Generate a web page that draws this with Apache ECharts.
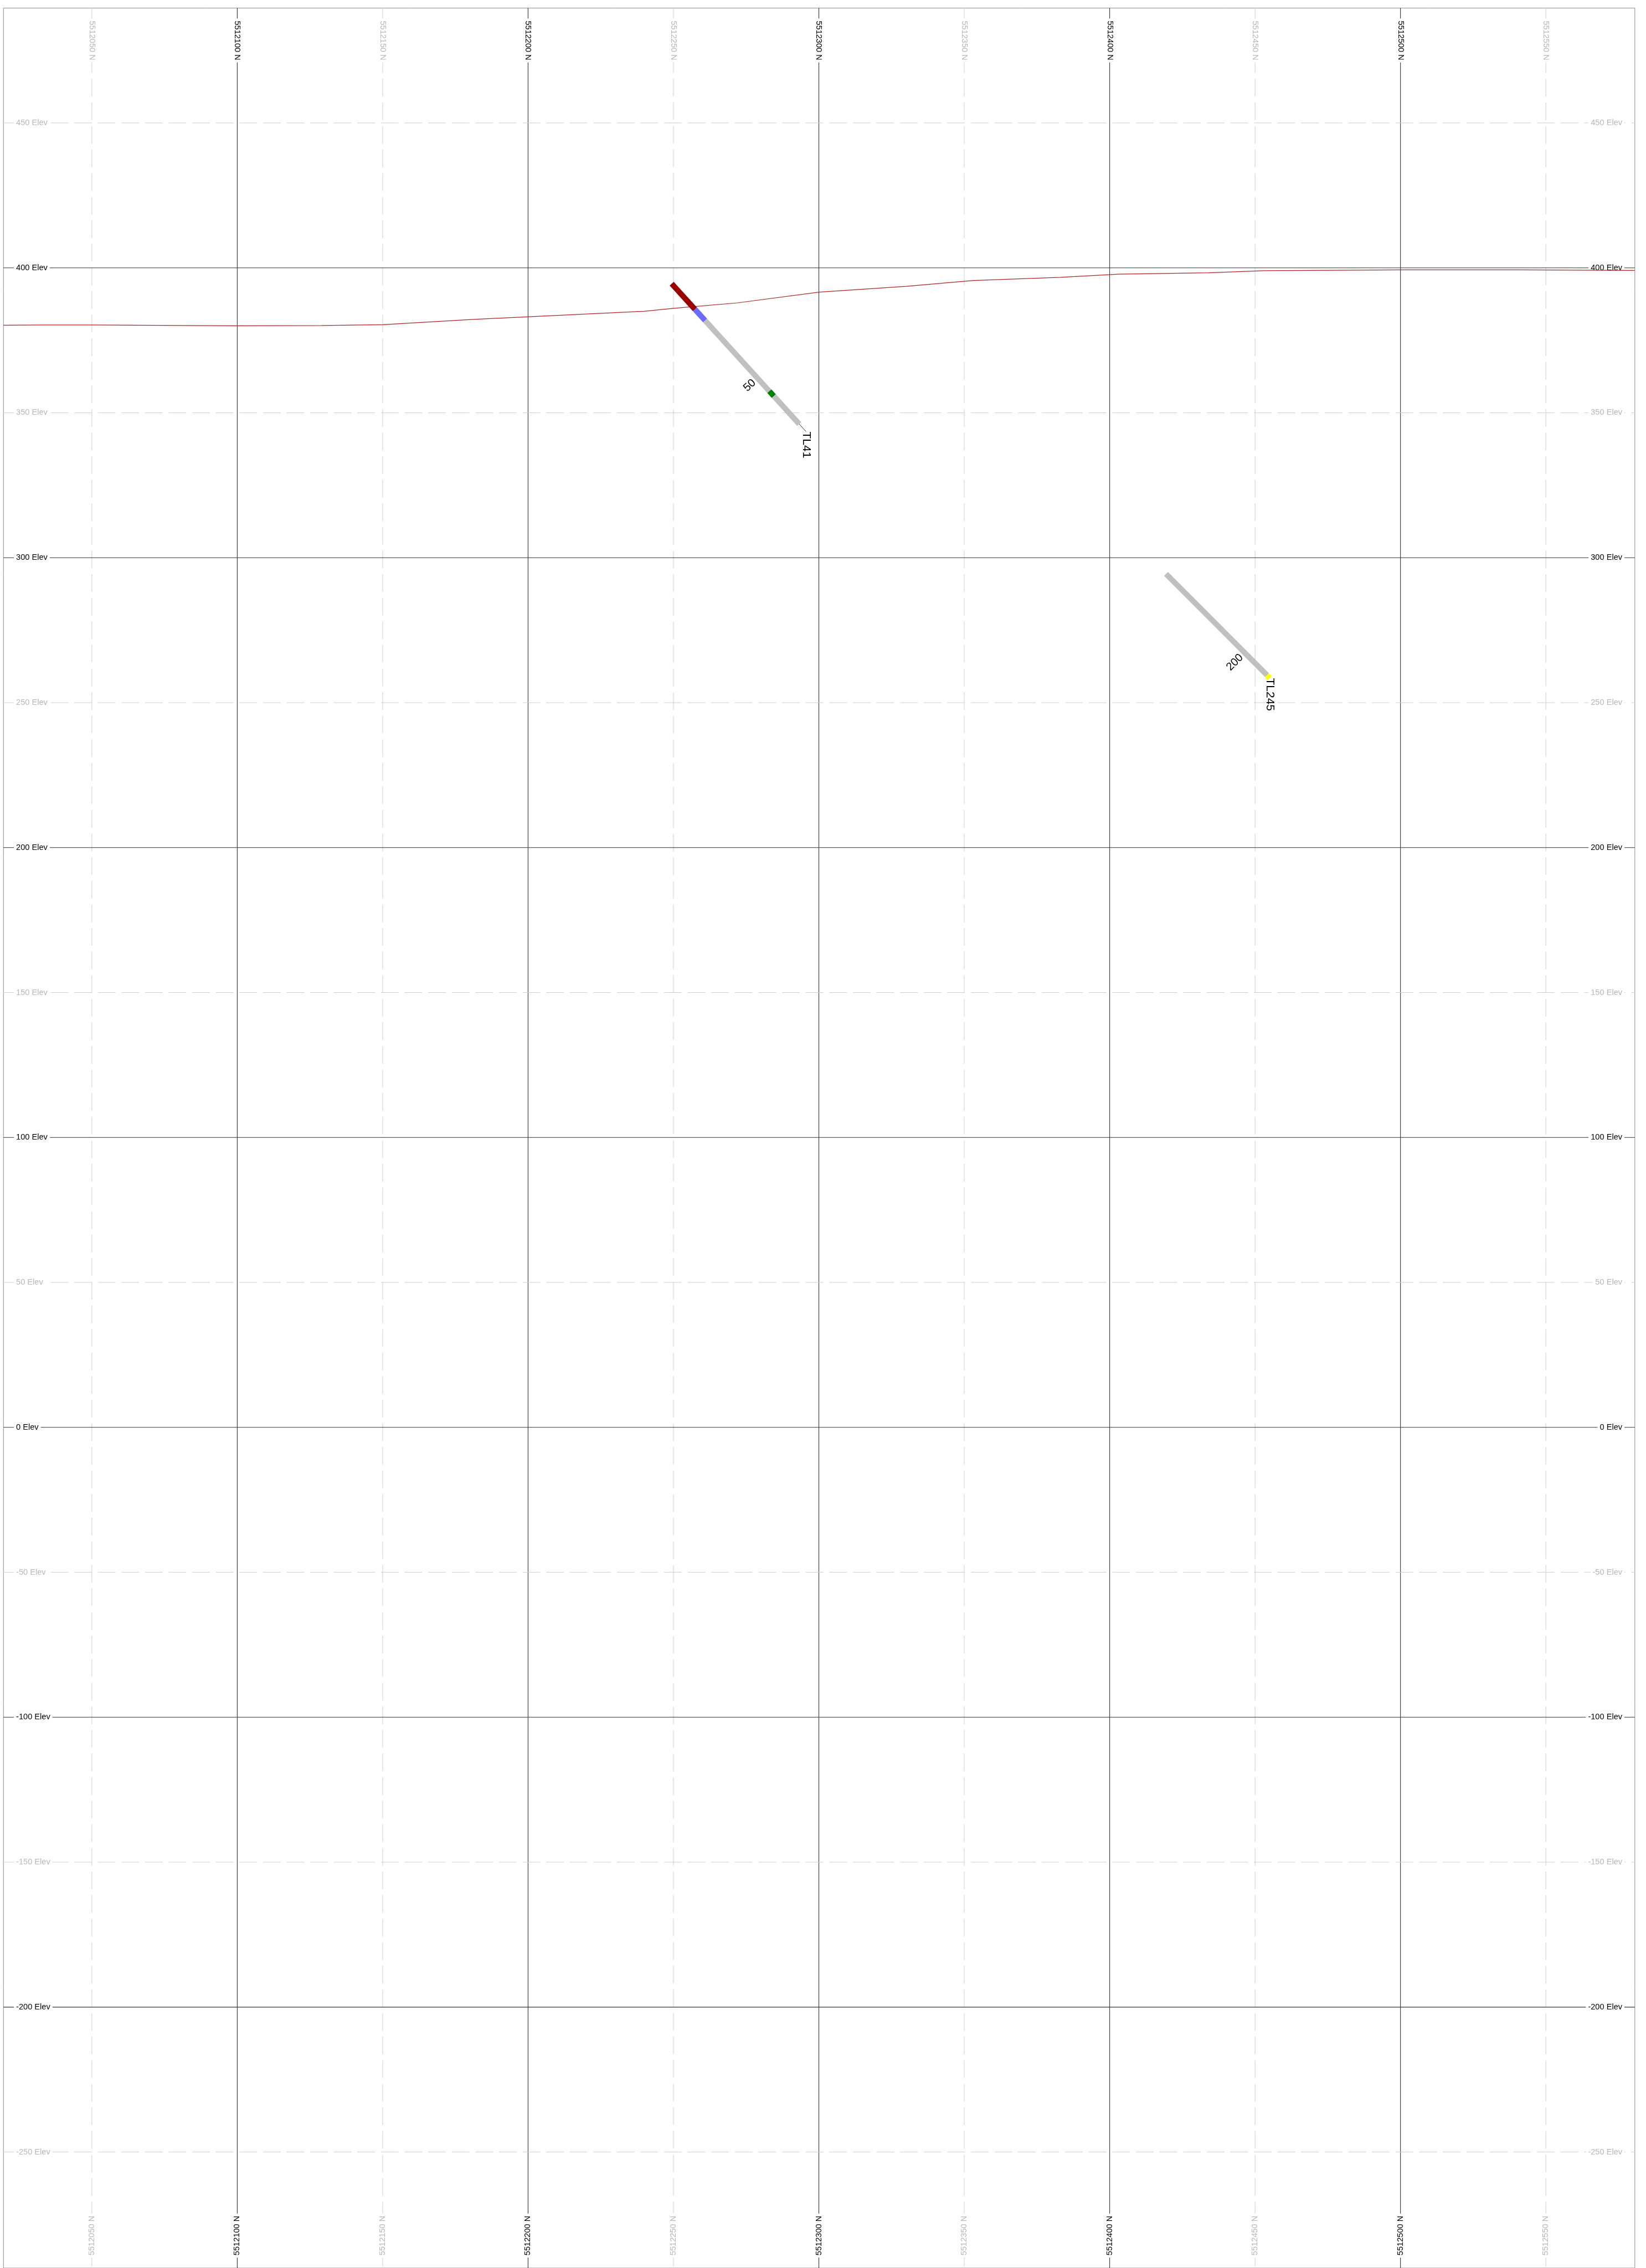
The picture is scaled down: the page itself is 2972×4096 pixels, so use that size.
<!DOCTYPE html>
<html>
<head>
<meta charset="utf-8">
<script src="https://cdn.jsdelivr.net/npm/echarts@6/dist/echarts.min.js"></script>
<style>
html, body { margin: 0; padding: 0; background: #ffffff; }
#chart { width: 2972px; height: 4096px; }
</style>
</head>
<body>
<div id="chart"></div>
<script>
// Section window (northing and elevation, metres)
const northRange = [5512019.6, 5512580.6];
const elevRange = [-290, 489.6];

// Grid ticks along the section
const northTicks = [5512050, 5512100, 5512150, 5512200, 5512250, 5512300,
                    5512350, 5512400, 5512450, 5512500, 5512550];
const elevTicks = [450, 400, 350, 300, 250, 200, 150, 100, 50, 0,
                   -50, -100, -150, -200, -250];

// Topographic surface profile
const topoNorth = [5512019.6, 5512033, 5512050, 5512082, 5512100, 5512129, 5512150,
                   5512181, 5512200, 5512240, 5512250, 5512272, 5512300, 5512330,
                   5512353, 5512383, 5512403, 5512434, 5512453, 5512500, 5512541, 5512580.6];
const topoElev = [380.2, 380.3, 380.3, 380.1, 380.0, 380.1, 380.4,
                  382.2, 383.1, 385.0, 386.0, 387.9, 391.6, 393.6,
                  395.6, 396.7, 397.8, 398.3, 399.0, 399.3, 399.3, 399.1];

// Drill hole traces projected on the section
const holeNames = ['TL41', 'TL245'];
const holeFromDepth = [0, 155.6];
const holeToDepth = [68.8, 206.3];
const holeStart = [[5512249.4, 394.5], [5512419.4, 294.4]];
const holeEnd = [[5512295.6, 343.5], [5512455.1, 258.5]];

// Logged intervals: [from, to, code]
const tl41Intervals = [[0, 11.9, 'OB'], [11.9, 17.1, 'FZ'], [17.1, 50.0, 'NS'],
                       [50.0, 52.3, 'MZ'], [52.3, 65.3, 'NS']];
const tl245Intervals = [[155.6, 204.9, 'NS'], [204.9, 206.3, 'AN']];
const holeIntervals = [tl41Intervals, tl245Intervals];

// Depth annotations along each hole
const holeDepthTicks = [[50], [200]];

// ---- styling ----
const FONT = '"Liberation Sans", Arial, Helvetica, sans-serif';
const intervalColors = { OB: '#990000', FZ: '#6b6bff', NS: '#c0c0c0', MZ: '#008000', AN: '#ffff00' };
const LABEL_INSET = 18.8;

function gridLabel(text, major, x, y, rotation, align) {
  return {
    type: 'text', x: x, y: y, rotation: rotation, z2: 5,
    style: {
      text: text, fontFamily: FONT, fontSize: 14.6,
      fill: major ? '#000000' : '#b8b8b8',
      align: align, verticalAlign: 'middle',
      backgroundColor: '#ffffff', padding: [1, 4, 1, 4]
    }
  };
}

function lineStyleFor(major) {
  return major
    ? { stroke: '#333333', lineWidth: 1.1 }
    : { stroke: '#cfcfcf', lineWidth: 1, lineDash: [32, 10.6] };
}

function northGridItem(params, api) {
  const v = api.value(0);
  const major = v % 100 === 0;
  const top = api.coord([v, elevRange[1]]);
  const bot = api.coord([v, elevRange[0]]);
  const text = v + ' N';
  return {
    type: 'group',
    children: [
      { type: 'line', z2: 1, shape: { x1: top[0], y1: top[1], x2: bot[0], y2: bot[1] }, style: lineStyleFor(major) },
      gridLabel(text, major, top[0], top[1] + LABEL_INSET, -Math.PI / 2, 'left'),
      gridLabel(text, major, bot[0], bot[1] - LABEL_INSET, Math.PI / 2, 'left')
    ]
  };
}

function elevGridItem(params, api) {
  const v = api.value(1);
  const major = v % 100 === 0;
  const left = api.coord([northRange[0], v]);
  const right = api.coord([northRange[1], v]);
  const text = v + ' Elev';
  return {
    type: 'group',
    children: [
      { type: 'line', z2: 1, shape: { x1: left[0], y1: left[1], x2: right[0], y2: right[1] }, style: lineStyleFor(major) },
      gridLabel(text, major, left[0] + LABEL_INSET, left[1], 0, 'left'),
      gridLabel(text, major, right[0] - LABEL_INSET, right[1], 0, 'right')
    ]
  };
}

function holeItem(params, api) {
  const i = params.dataIndex;
  const s = holeStart[i], e = holeEnd[i];
  const d0 = holeFromDepth[i], d1 = holeToDepth[i];
  const at = function (d) {
    const t = (d - d0) / (d1 - d0);
    return api.coord([s[0] + t * (e[0] - s[0]), s[1] + t * (e[1] - s[1])]);
  };
  const p0 = at(d0), p1 = at(d1);
  const len = Math.hypot(p1[0] - p0[0], p1[1] - p0[1]);
  const ux = (p1[0] - p0[0]) / len, uy = (p1[1] - p0[1]) / len;
  const children = [];
  // thin trace
  children.push({ type: 'line', shape: { x1: p0[0], y1: p0[1], x2: p1[0], y2: p1[1] },
                  style: { stroke: '#000000', lineWidth: 0.8 } });
  // interval bars
  holeIntervals[i].forEach(function (iv) {
    const a = at(iv[0]), b = at(iv[1]);
    children.push({ type: 'line', shape: { x1: a[0], y1: a[1], x2: b[0], y2: b[1] },
                    style: { stroke: intervalColors[iv[2]], lineWidth: 10, lineCap: 'butt' } });
  });
  // depth annotations, set perpendicular to the hole on its footwall side
  const rot = Math.atan2(ux, uy);
  holeDepthTicks[i].forEach(function (d) {
    const p = at(d);
    const bx = uy, by = -ux; // text baseline direction
    const ax = p[0] - ux * 31.5 - bx * 8.2;
    const ay = p[1] - uy * 31.5 - by * 8.2;
    children.push({ type: 'text', x: ax, y: ay, rotation: rot,
      style: { text: String(d), fontFamily: FONT, fontSize: 20, fill: '#000000',
               align: 'right', verticalAlign: 'middle' } });
  });
  // hole name at the end of the trace
  children.push({ type: 'text', x: p1[0], y: p1[1], rotation: -Math.PI / 2,
    style: { text: holeNames[i], fontFamily: FONT, fontSize: 21, fill: '#000000',
             align: 'left', verticalAlign: 'middle' } });
  return { type: 'group', children: children };
}

const chart = echarts.init(document.getElementById('chart'), null, { renderer: 'canvas' });

const option = {
  animation: false,
  backgroundColor: '#ffffff',
  grid: {
    left: 6.25, top: 14.6, width: 2945.6, height: 4093.4,
    show: true, backgroundColor: '#ffffff', borderColor: '#8a8a8a', borderWidth: 1
  },
  xAxis: { type: 'value', min: northRange[0], max: northRange[1], show: false },
  yAxis: { type: 'value', min: elevRange[0], max: elevRange[1], show: false },
  series: [
    {
      name: 'northing grid', type: 'custom', z: 1, silent: true,
      renderItem: northGridItem,
      data: northTicks.map(function (v) { return [v, elevRange[0]]; })
    },
    {
      name: 'elevation grid', type: 'custom', z: 1, silent: true,
      renderItem: elevGridItem,
      data: elevTicks.map(function (v) { return [northRange[0], v]; })
    },
    {
      name: 'topography', type: 'line', z: 3, silent: true,
      symbol: 'none',
      lineStyle: { color: '#b22222', width: 1.2 },
      data: topoNorth.map(function (n, k) { return [n, topoElev[k]]; })
    },
    {
      name: 'drill holes', type: 'custom', z: 4, silent: true,
      renderItem: holeItem,
      data: holeStart.map(function (p) { return [p[0], p[1]]; })
    }
  ]
};

chart.setOption(option);
</script>
</body>
</html>
